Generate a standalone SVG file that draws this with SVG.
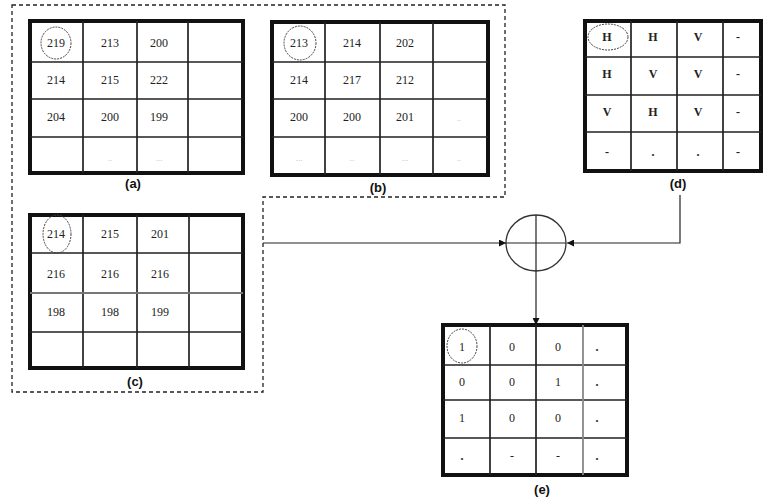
<svg xmlns="http://www.w3.org/2000/svg" width="763" height="502" viewBox="0 0 763 502">
<defs>
<style>
.outer{fill:#fff;stroke:#111;stroke-width:4}
.in{stroke:#222;stroke-width:1.7;fill:none}
.v{font-family:"Liberation Serif",serif;font-size:12px;fill:#222;text-anchor:middle}
.b{font-weight:bold}
.f{font-family:"Liberation Serif",serif;font-size:9px;fill:#bbb;text-anchor:middle}
.lbl{font-family:"Liberation Sans",Arial,sans-serif;font-size:13px;font-weight:bold;fill:#111;text-anchor:middle}
.ring{fill:none;stroke:#444;stroke-width:1;stroke-dasharray:2 1}
.dash{fill:none;stroke:#222;stroke-width:1.3;stroke-dasharray:4 3}
.con{fill:none;stroke:#222;stroke-width:1.2}
</style>
<marker id="ah" viewBox="0 0 10 10" refX="10" refY="5" markerWidth="7" markerHeight="7" orient="auto" markerUnits="userSpaceOnUse">
<path d="M0,0 L10,5 L0,10 z" fill="#111"/>
</marker>
</defs>
<rect width="763" height="502" fill="#fff"/>
<path class="dash" d="M12,5 H505 V197 H263 V392 H12 Z"/>

<g id="grid-a">
<rect class="outer" x="30" y="21" width="213" height="152"/>
<path class="in" d="M83,21V173M137,21V173M188,21V173M30,62H243M30,99H243M30,137H243"/>
<ellipse class="ring" cx="56" cy="43" rx="15" ry="16"/>
<text class="v" x="56" y="47">219</text><text class="v" x="110" y="47">213</text><text class="v" x="159" y="47">200</text>
<text class="v" x="56" y="84">214</text><text class="v" x="110" y="84">215</text><text class="v" x="159" y="84">222</text>
<text class="v" x="56" y="121">204</text><text class="v" x="110" y="121">200</text><text class="v" x="159" y="121">199</text>
<text class="f" x="110" y="161">..</text><text class="f" x="159" y="161">...</text>
<text class="lbl" x="133" y="188">(a)</text>
</g>

<g id="grid-b">
<rect class="outer" x="272" y="22" width="216" height="153"/>
<path class="in" d="M325,22V175M380,22V175M433,22V175M272,62H488M272,99H488M272,137H488"/>
<ellipse class="ring" cx="300" cy="43" rx="16" ry="17"/>
<text class="v" x="299" y="47">213</text><text class="v" x="352" y="47">214</text><text class="v" x="405" y="47">202</text>
<text class="v" x="299" y="84">214</text><text class="v" x="352" y="84">217</text><text class="v" x="405" y="84">212</text>
<text class="v" x="299" y="121">200</text><text class="v" x="352" y="121">200</text><text class="v" x="405" y="121">201</text><text class="f" x="459" y="121">..</text>
<text class="f" x="299" y="161">...</text><text class="f" x="352" y="161">..</text><text class="f" x="405" y="161">...</text><text class="f" x="459" y="161">..</text>
<text class="lbl" x="378" y="192">(b)</text>
</g>

<g id="grid-c">
<rect class="outer" x="30" y="215" width="213" height="153"/>
<path class="in" d="M83,215V368M137,215V368M189,215V368M30,253H243M30,332H243"/>
<path d="M30,293H243" stroke="#777" stroke-width="1.8"/>
<ellipse class="ring" cx="57" cy="234" rx="14" ry="19"/>
<text class="v" x="56" y="238">214</text><text class="v" x="110" y="238">215</text><text class="v" x="160" y="238">201</text>
<text class="v" x="56" y="278">216</text><text class="v" x="110" y="278">216</text><text class="v" x="160" y="278">216</text>
<text class="v" x="56" y="316">198</text><text class="v" x="110" y="316">198</text><text class="v" x="160" y="316">199</text>
<text class="lbl" x="135" y="386">(c)</text>
</g>

<g id="grid-d">
<rect class="outer" x="585" y="21" width="176" height="150"/>
<path class="in" d="M631,21V171M677,21V171M723,21V171M585,57H761M585,95H761M585,132H761"/>
<ellipse class="ring" cx="608" cy="37" rx="20" ry="13"/>
<text class="v b" x="607" y="41">H</text><text class="v b" x="653" y="41">H</text><text class="v b" x="698" y="41">V</text><text class="v b" x="738" y="41">-</text>
<text class="v b" x="607" y="78">H</text><text class="v b" x="653" y="78">V</text><text class="v b" x="698" y="78">V</text><text class="v b" x="738" y="78">-</text>
<text class="v b" x="607" y="116">V</text><text class="v b" x="653" y="116">H</text><text class="v b" x="698" y="116">V</text><text class="v b" x="738" y="116">-</text>
<text class="v b" x="607" y="156">-</text><text class="v b" x="653" y="156">.</text><text class="v b" x="698" y="156">.</text><text class="v b" x="738" y="156">-</text>
<text class="lbl" x="678" y="188">(d)</text>
</g>

<g id="grid-e">
<rect class="outer" x="443" y="325" width="184" height="150"/>
<path class="in" d="M490,325V475M536,325V475M443,365H627M443,400H627M443,438H627"/>
<path d="M583,325V475" stroke="#888" stroke-width="1.8"/>
<ellipse class="ring" cx="462" cy="346" rx="15" ry="17"/>
<text class="v" x="462" y="351">1</text><text class="v" x="512" y="351">0</text><text class="v" x="558" y="351">0</text><text class="v b" x="597" y="351">.</text>
<text class="v" x="462" y="386">0</text><text class="v" x="512" y="386">0</text><text class="v" x="558" y="386">1</text><text class="v b" x="597" y="386">.</text>
<text class="v" x="462" y="422">1</text><text class="v" x="512" y="422">0</text><text class="v" x="558" y="422">0</text><text class="v b" x="597" y="422">.</text>
<text class="v b" x="462" y="460">.</text><text class="v" x="512" y="460">-</text><text class="v" x="558" y="460">-</text><text class="v b" x="597" y="460">.</text>
<text class="lbl" x="542" y="494">(e)</text>
</g>

<g id="junction">
<ellipse cx="536" cy="243" rx="30" ry="28" fill="none" stroke="#333" stroke-width="1.3"/>
<path d="M536,215V271M506,243H566" stroke="#222" stroke-width="1.2"/>
</g>

<g id="connectors">
<path class="con" d="M263,243H506" marker-end="url(#ah)"/>
<path class="con" d="M680,195V243H567" marker-end="url(#ah)"/>
<path class="con" d="M536,271V325" marker-end="url(#ah)"/>
</g>
</svg>
